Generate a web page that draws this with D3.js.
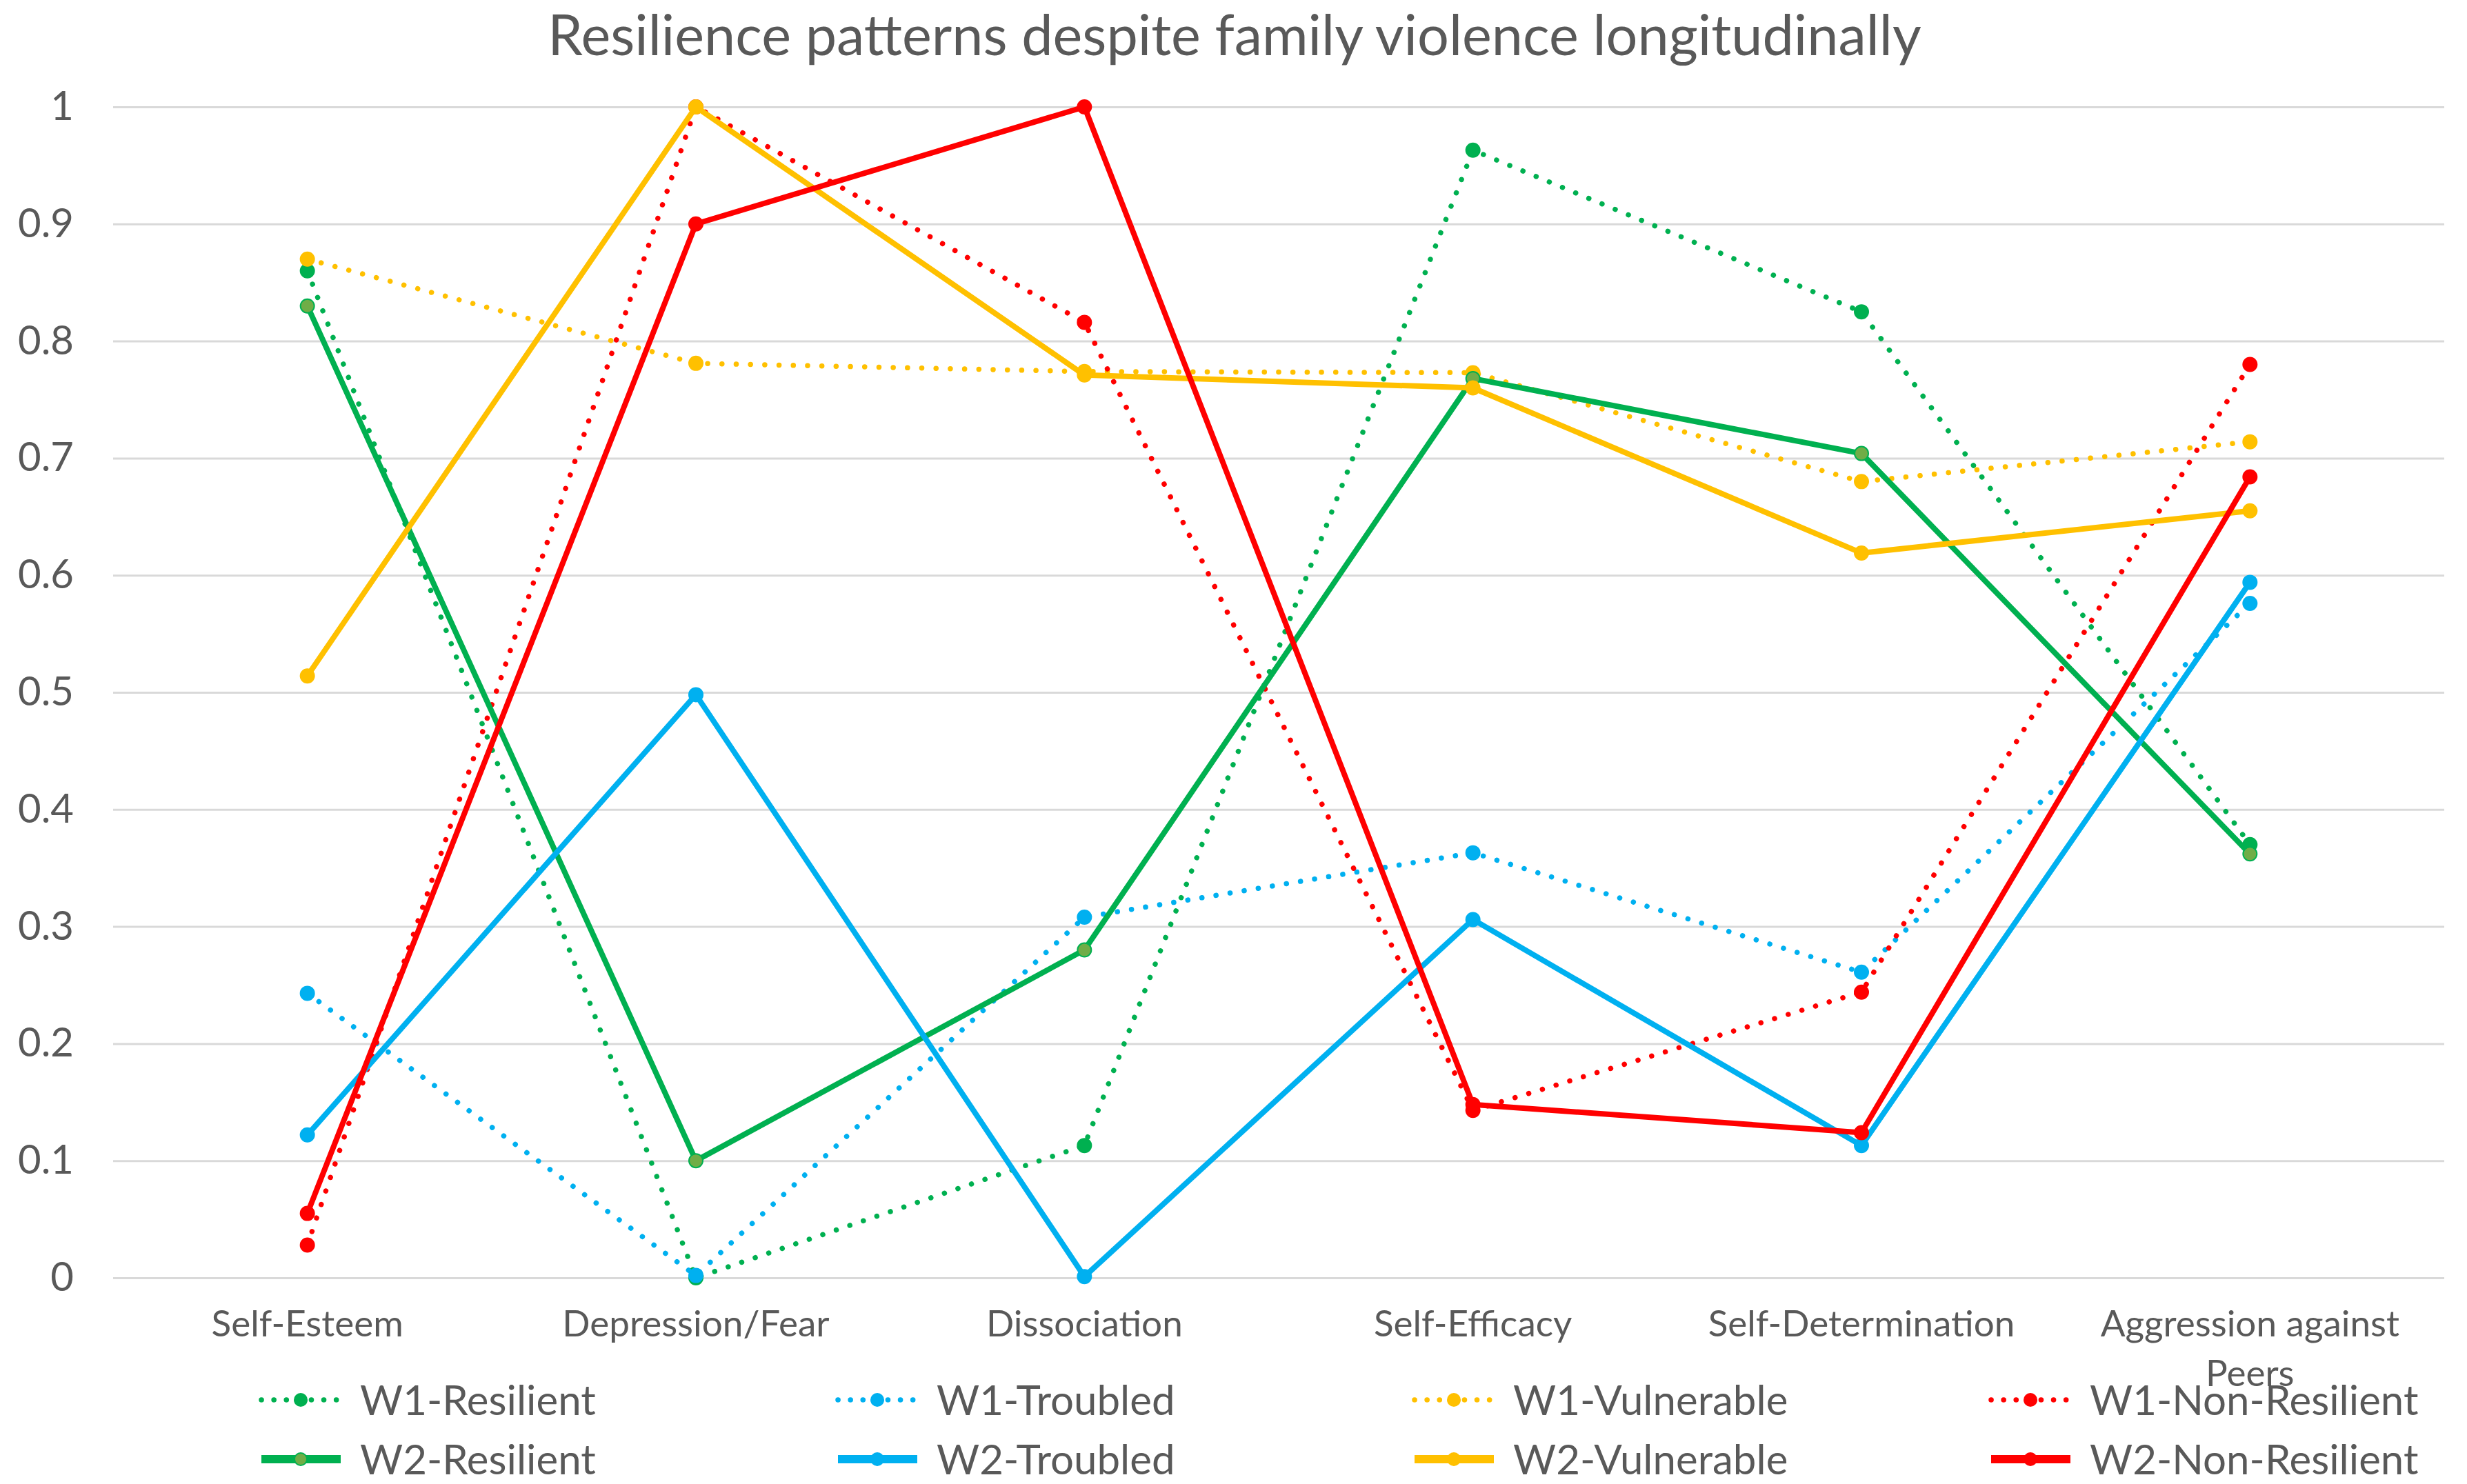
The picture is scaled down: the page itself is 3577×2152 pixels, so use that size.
<!DOCTYPE html>
<html>
<head>
<meta charset="utf-8">
<script src="https://cdn.jsdelivr.net/npm/d3@7"></script>
<style>
  body { margin: 0; background: #fff; }
  text { font-family: Lato, "Open Sans", sans-serif; fill: #595959; }
</style>
</head>
<body>
<div id="chart"></div>
<script>
// data
const categories = ["Self-Esteem", "Depression/Fear", "Dissociation", "Self-Efficacy", "Self-Determination", "Aggression against Peers"];
const yTicks = [0, 0.1, 0.2, 0.3, 0.4, 0.5, 0.6, 0.7, 0.8, 0.9, 1];
const yTickLabels = ["0", "0.1", "0.2", "0.3", "0.4", "0.5", "0.6", "0.7", "0.8", "0.9", "1"];
const seriesNames = ["W1-Resilient", "W1-Troubled", "W1-Vulnerable", "W1-Non-Resilient",
                     "W2-Resilient", "W2-Troubled", "W2-Vulnerable", "W2-Non-Resilient"];

const w1Resilient    = [0.86, 0.0, 0.113, 0.963, 0.825, 0.37];
const w1Troubled     = [0.243, 0.002, 0.308, 0.363, 0.261, 0.576];
const w1Vulnerable   = [0.87, 0.781, 0.774, 0.773, 0.68, 0.714];
const w1NonResilient = [0.028, 1.0, 0.816, 0.143, 0.244, 0.78];
const w2Resilient    = [0.83, 0.1, 0.28, 0.768, 0.704, 0.362];
const w2Troubled     = [0.122, 0.498, 0.001, 0.306, 0.113, 0.594];
const w2Vulnerable   = [0.514, 1.0, 0.771, 0.76, 0.619, 0.655];
const w2NonResilient = [0.055, 0.9, 1.0, 0.148, 0.124, 0.684];

const seriesValues = [w1Resilient, w1Troubled, w1Vulnerable, w1NonResilient,
                      w2Resilient, w2Troubled, w2Vulnerable, w2NonResilient];

// look of each series
const colors = ["#00B050", "#00B0F0", "#FFC000", "#FF0000", "#00B050", "#00B0F0", "#FFC000", "#FF0000"];
const markerFill = ["#00B050", "#00B0F0", "#FFC000", "#FF0000", "#70AD47", "#00B0F0", "#FFC000", "#FF0000"];
const dotted = [true, true, true, true, false, false, false, false];

const W = 3577, H = 2152;
const margin = {top: 155, right: 33, bottom: 299, left: 164};

const svg = d3.select("#chart")
  .append("svg")
    .attr("width", W)
    .attr("height", H);

// title
svg.append("text")
  .attr("x", 1790)
  .attr("y", 80)
  .attr("text-anchor", "middle")
  .style("font-size", "81px")
  .text("Resilience patterns despite family violence longitudinally");

const x = d3.scaleBand()
  .domain(categories)
  .range([margin.left, W - margin.right]);

const y = d3.scaleLinear()
  .domain([0, 1])
  .range([H - margin.bottom, margin.top]);

// y axis with gridlines
const yAxis = svg.append("g")
  .attr("transform", `translate(${margin.left},0)`)
  .call(d3.axisLeft(y)
    .tickValues(yTicks)
    .tickFormat((d, i) => yTickLabels[i])
    .tickSize(-(W - margin.left - margin.right))
    .tickPadding(57));
yAxis.select(".domain").remove();
yAxis.selectAll(".tick line").attr("stroke", "#d9d9d9").attr("stroke-width", 3);
yAxis.selectAll(".tick text")
  .style("font-size", "58px")
  .attr("fill", "#595959")
  .style("font-family", "Lato, sans-serif");

// x axis labels
const xAxis = svg.append("g")
  .attr("transform", `translate(0,${y(0)})`)
  .call(d3.axisBottom(x).tickSize(0).tickPadding(47));
xAxis.select(".domain").remove();
xAxis.selectAll(".tick text")
  .style("font-size", "53px")
  .attr("fill", "#595959")
  .style("font-family", "Lato, sans-serif")
  .call(wrap, 500);

function wrap(texts, width) {
  texts.each(function() {
    const t = d3.select(this);
    const words = t.text().split(" ");
    const yy = t.attr("y");
    t.text(null);
    let line = [];
    let lineNo = 0;
    let tspan = t.append("tspan").attr("x", 0).attr("y", yy).attr("dy", "0.71em");
    words.forEach(w => {
      line.push(w);
      tspan.text(line.join(" "));
      if (tspan.node().getComputedTextLength() > width && line.length > 1) {
        line.pop();
        tspan.text(line.join(" "));
        line = [w];
        lineNo++;
        tspan = t.append("tspan").attr("x", 0).attr("y", yy)
          .attr("dy", (0.71 + lineNo * 1.36) + "em").text(w);
      }
    });
  });
}

const line = d3.line()
  .x((d, i) => x(categories[i]) + x.bandwidth() / 2)
  .y(d => y(d));

seriesValues.forEach((vals, s) => {
  const g = svg.append("g");
  g.append("path")
    .datum(vals)
    .attr("fill", "none")
    .attr("stroke", colors[s])
    .attr("stroke-width", dotted[s] ? 7.5 : 8)
    .attr("stroke-linecap", dotted[s] ? "round" : "butt")
    .attr("stroke-linejoin", "round")
    .attr("stroke-dasharray", dotted[s] ? "0.1,20.6" : null)
    .attr("d", line);
  g.selectAll("circle")
    .data(vals)
    .enter().append("circle")
    .attr("cx", (d, i) => x(categories[i]) + x.bandwidth() / 2)
    .attr("cy", d => y(d))
    .attr("r", 10)
    .attr("fill", markerFill[s])
    .attr("stroke", colors[s])
    .attr("stroke-width", 2);
});

// legend, 4 columns by 2 rows
const legend = svg.append("g");
seriesNames.forEach((name, s) => {
  const col = s % 4, row = Math.floor(s / 4);
  const lx = 379 + col * 836;
  const ly = 2030 + row * 86;
  const item = legend.append("g").attr("transform", `translate(${lx},${ly})`);
  item.append("line")
    .attr("x1", 0).attr("x2", 115)
    .attr("stroke", colors[s])
    .attr("stroke-width", dotted[s] ? 7.5 : 12)
    .attr("stroke-linecap", dotted[s] ? "round" : "butt")
    .attr("stroke-dasharray", dotted[s] ? "0.1,18" : null);
  item.append("circle")
    .attr("cx", 57).attr("r", 9)
    .attr("fill", markerFill[s])
    .attr("stroke", colors[s])
    .attr("stroke-width", 2);
  item.append("text")
    .attr("x", 143)
    .attr("dy", "0.36em")
    .style("font-size", "60px")
    .text(name);
});
</script>
</body>
</html>
